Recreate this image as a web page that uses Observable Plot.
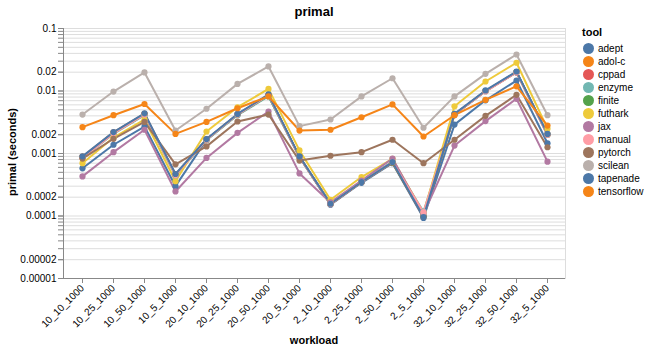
<!DOCTYPE html>
<html><head><meta charset="utf-8">
<script src="https://cdn.jsdelivr.net/npm/d3@7"></script>
<script src="https://cdn.jsdelivr.net/npm/@observablehq/plot@0.6"></script>
<style>
body{margin:0;background:#fff;font-family:"Liberation Sans",Arial,sans-serif;}
#wrap{position:relative;width:649px;height:351px;overflow:hidden;}
#chart{position:absolute;left:0;top:0;}
.lbl{position:absolute;font-weight:bold;white-space:nowrap;color:#000;transform:translate(-50%,-50%);}
.leg{position:absolute;left:582px;top:0;}
.legtitle{position:absolute;left:0;top:26px;font-size:11px;font-weight:bold;}
.item{position:absolute;left:0;height:13px;font-size:10px;line-height:13px;white-space:nowrap;}
.sw{position:absolute;left:0.5px;top:1px;width:11px;height:11px;border-radius:50%;}
.item span{position:absolute;left:16px;top:0;}
</style></head><body>
<div id="wrap">
<div id="chart"></div>
<div class="lbl" style="left:314px;top:11px;font-size:13px;">primal</div>
<div class="lbl" style="left:12px;top:152px;font-size:11px;transform:translate(-50%,-50%) rotate(-90deg);">primal (seconds)</div>
<div class="lbl" style="left:314px;top:340px;font-size:11px;">workload</div>
<div class="leg" id="legend"><div class="legtitle">tool</div></div>
</div>
<script>
const workloads = ["10_10_1000","10_25_1000","10_50_1000","10_5_1000","20_10_1000","20_25_1000","20_50_1000","20_5_1000","2_10_1000","2_25_1000","2_50_1000","2_5_1000","32_10_1000","32_25_1000","32_50_1000","32_5_1000"];
const tools = ["adept","adol-c","cppad","enzyme","finite","futhark","jax","manual","pytorch","scilean","tapenade","tensorflow"];
const toolColors = ["#4c78a8","#f58518","#e45756","#72b7b2","#54a24b","#eeca3b","#b279a2","#ff9da6","#9d755d","#bab0ac","#4c78a8","#f58518"];
const yTickLabels = [0.00001, 0.00002, 0.0001, 0.0002, 0.001, 0.002, 0.01, 0.02, 0.1];

const adept      = [0.00058, 0.00138, 0.0027, 0.0003, 0.00165, 0.0042, 0.0084, 0.00087, 0.000152, 0.00034, 0.0007, 0.000093, 0.0029, 0.0071, 0.0147, 0.00146];
const adolc      = [0.00089, 0.00218, 0.0043, 0.00046, 0.00168, 0.00425, 0.0086, 0.00089, 0.000156, 0.00035, 0.00072, 0.000097, 0.0042, 0.0100, 0.0200, 0.00203];
const cppad      = [0.00088, 0.00215, 0.0043, 0.00046, 0.00167, 0.0042, 0.0086, 0.00088, 0.000155, 0.00035, 0.00072, 0.000098, 0.0042, 0.0099, 0.0198, 0.0020];
const enzyme     = [0.00086, 0.00205, 0.0041, 0.00044, 0.00165, 0.0041, 0.0082, 0.00088, 0.000158, 0.00036, 0.00074, 0.000118, 0.0042, 0.0099, 0.0200, 0.0020];
const finite     = [0.00087, 0.00212, 0.0042, 0.00045, 0.00166, 0.0042, 0.0084, 0.00088, 0.000156, 0.00035, 0.00072, 0.0001, 0.0042, 0.0100, 0.0201, 0.00202];
const futhark    = [0.0007, 0.0018, 0.0035, 0.00036, 0.00225, 0.0055, 0.0108, 0.00112, 0.000182, 0.00042, 0.00082, 0.000112, 0.0057, 0.0142, 0.0283, 0.0025];
const jax        = [0.00043, 0.00105, 0.0024, 0.000247, 0.00085, 0.00214, 0.0047, 0.00048, 0.000165, 0.00037, 0.00083, 0.000108, 0.00134, 0.0033, 0.0075, 0.00074];
const manual     = [0.00085, 0.0021, 0.0042, 0.00045, 0.00166, 0.0042, 0.0085, 0.00087, 0.000156, 0.00035, 0.00073, 0.000115, 0.0042, 0.0099, 0.0199, 0.0020];
const pytorch    = [0.00083, 0.00172, 0.0032, 0.00067, 0.0013, 0.00325, 0.0042, 0.00077, 0.00092, 0.00105, 0.00166, 0.0007, 0.00166, 0.0040, 0.0087, 0.00126];
const scilean    = [0.0042, 0.0098, 0.0198, 0.00233, 0.0052, 0.013, 0.0247, 0.00274, 0.0035, 0.0082, 0.016, 0.00258, 0.0082, 0.0188, 0.0384, 0.0041];
const tapenade   = [0.0009, 0.0022, 0.0044, 0.00047, 0.0017, 0.0043, 0.0088, 0.0009, 0.000157, 0.00035, 0.00073, 0.000096, 0.0043, 0.0102, 0.0205, 0.00206];
const tensorflow = [0.00264, 0.0041, 0.0062, 0.00206, 0.0032, 0.0053, 0.0082, 0.00233, 0.0024, 0.0038, 0.0061, 0.00187, 0.0041, 0.0072, 0.0119, 0.0028];

const series = [adept, adolc, cppad, enzyme, finite, futhark, jax, manual, pytorch, scilean, tapenade, tensorflow];
const data = [];
tools.forEach((t, i) => workloads.forEach((w, j) => data.push({tool: t, workload: w, value: series[i][j]})));

const gridVals = d3.scaleLog().domain([1e-5, 0.1]).ticks();

const axisLines = (index, scales, values, dims) => {
  const g = d3.create("svg:g");
  const l = dims.marginLeft, r = dims.width - dims.marginRight, t = dims.marginTop, b = dims.height - dims.marginBottom;
  g.append("line").attr("x1", l + 0.5).attr("x2", l + 0.5).attr("y1", t).attr("y2", b).attr("stroke", "#888");
  g.append("line").attr("x1", l).attr("x2", r).attr("y1", b + 0.5).attr("y2", b + 0.5).attr("stroke", "#888");
  return g.node();
};

const chart = Plot.plot({
  width: 580, height: 351,
  marginTop: 28, marginBottom: 73, marginLeft: 63, marginRight: 15,
  style: {fontFamily: '"Liberation Sans", Arial, sans-serif', fontSize: "10px", background: "#fff"},
  x: {type: "point", domain: workloads, padding: 0.53, label: null},
  y: {type: "log", domain: [1e-5, 0.1], label: null},
  color: {domain: tools, range: toolColors},
  marks: [
    Plot.ruleY(gridVals, {stroke: "#ddd", strokeWidth: 1}),
    Plot.frame({stroke: "#ddd"}),
    Plot.axisY({ticks: gridVals, tickFormat: () => "", tickSize: 5, stroke: "#888", label: null}),
    Plot.axisY({ticks: yTickLabels, tickFormat: d => String(d), tickSize: 5, tickPadding: 2, stroke: "#888", fontSize: 10, label: null}),
    Plot.axisX({tickRotate: -45, tickSize: 5, tickPadding: 3, stroke: "#888", fontSize: 10, label: null}),
    axisLines,
    Plot.line(data, {x: "workload", y: "value", z: "tool", stroke: "tool", strokeWidth: 2}),
    Plot.dot(data, {x: "workload", y: "value", fill: "tool", r: 3.1, stroke: "none"})
  ]
});
document.getElementById("chart").appendChild(chart);

const leg = document.getElementById("legend");
tools.forEach((t, i) => {
  const it = document.createElement("div");
  it.className = "item";
  it.style.top = (41.8 + 13.04 * i) + "px";
  it.innerHTML = `<div class="sw" style="background:${toolColors[i]}"></div><span>${t}</span>`;
  leg.appendChild(it);
});
</script>
</body></html>
